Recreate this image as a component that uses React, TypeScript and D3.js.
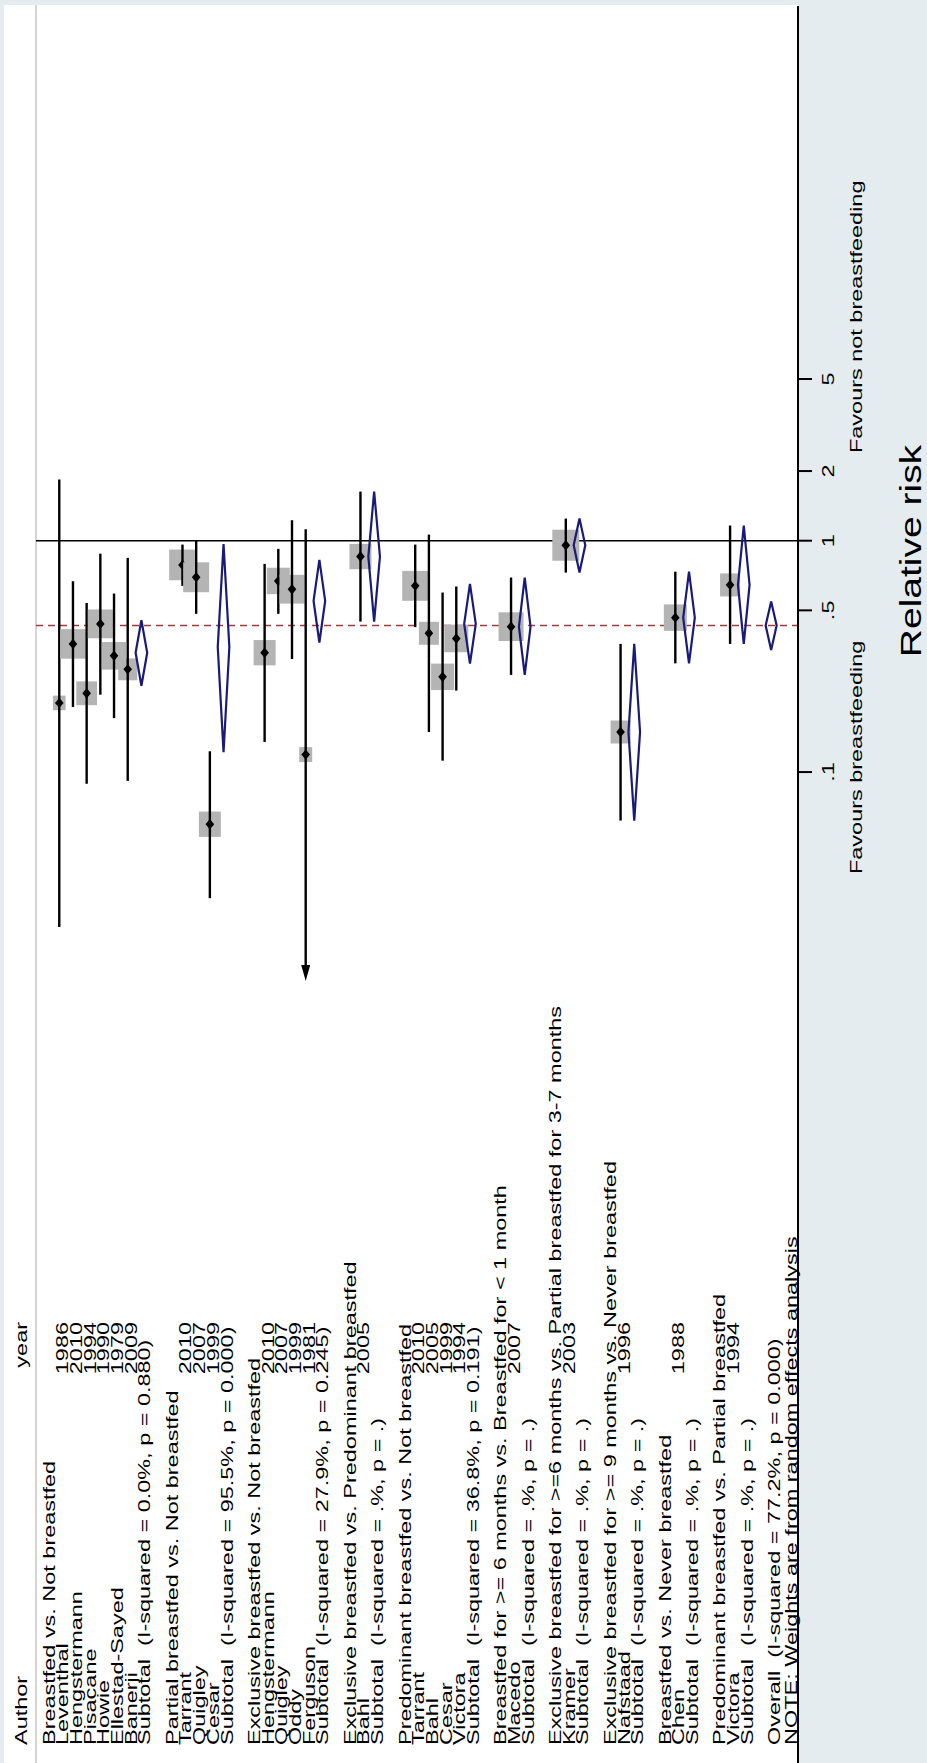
import React from 'react';
import * as d3 from 'd3';

// ---------------- data ----------------
const groupNames = [
  'Breastfed vs. Not breastfed',
  'Partial breastfed vs. Not breastfed',
  'Exclusive breastfed vs. Not breastfed',
  'Exclusive breastfed vs. Predominant breastfed',
  'Predominant breastfed vs. Not breastfed',
  'Breastfed for >= 6 months vs. Breastfed for < 1 month',
  'Exclusive breastfed for >=6 months vs. Partial breastfed for 3-7 months',
  'Exclusive breastfed for >= 9 months vs. Never breastfed',
  'Breastfed vs. Never breastfed',
  'Predominant breastfed vs. Partial breastfed',
];
const groupHet = [
  '(I-squared = 0.0%, p = 0.880)',
  '(I-squared = 95.5%, p = 0.000)',
  '(I-squared = 27.9%, p = 0.245)',
  '(I-squared = .%, p = .)',
  '(I-squared = 36.8%, p = 0.191)',
  '(I-squared = .%, p = .)',
  '(I-squared = .%, p = .)',
  '(I-squared = .%, p = .)',
  '(I-squared = .%, p = .)',
  '(I-squared = .%, p = .)',
];
const studyAuthors = [
  'Leventhal', 'Hengstermann', 'Pisacane', 'Howie', 'Ellestad-Sayed', 'Banerji',
  'Tarrant', 'Quigley', 'Cesar',
  'Hengstermann', 'Quigley', 'Oddy', 'Ferguson',
  'Bahl',
  'Tarrant', 'Bahl', 'Cesar', 'Victora',
  'Macedo',
  'Kramer',
  'Nafstaad',
  'Chen',
  'Victora',
];
const studyYears = [
  '1986', '2010', '1994', '1990', '1979', '2009',
  '2010', '2007', '1999',
  '2010', '2007', '1999', '1981',
  '2005',
  '2010', '2005', '1999', '1994',
  '2007',
  '2003',
  '1996',
  '1988',
  '1994',
];
const studyGroup = [0, 0, 0, 0, 0, 0, 1, 1, 1, 2, 2, 2, 2, 3, 4, 4, 4, 4, 5, 6, 7, 8, 9];
const studyRR = [0.199, 0.358, 0.219, 0.437, 0.318, 0.278, 0.786, 0.695, 0.0595, 0.328, 0.670, 0.617, 0.119, 0.854, 0.638, 0.398, 0.258, 0.378, 0.425, 0.956, 0.149, 0.465, 0.644];
const studyLow = [0.0214, 0.191, 0.089, 0.216, 0.171, 0.0916, 0.638, 0.483, 0.0285, 0.135, 0.483, 0.308, 0.008, 0.447, 0.423, 0.149, 0.112, 0.225, 0.263, 0.728, 0.0617, 0.295, 0.358];
const studyHigh = [1.84, 0.668, 0.538, 0.879, 0.591, 0.843, 0.962, 1.0, 0.123, 0.794, 0.922, 1.226, 1.12, 1.63, 0.962, 1.063, 0.597, 0.634, 0.693, 1.246, 0.358, 0.735, 1.163];
const studyWeight = [1.36, 5.57, 3.61, 5.28, 4.86, 3.05, 6.02, 5.71, 4.09, 4.09, 4.47, 5.28, 1.43, 4.09, 5.71, 3.38, 4.47, 4.86, 5.28, 6.16, 3.38, 4.47, 3.38];
const subtotalRR = [0.328, 0.347, 0.549, 0.854, 0.437, 0.425, 0.956, 0.149, 0.465, 0.644];
const subtotalLow = [0.236, 0.122, 0.363, 0.447, 0.294, 0.263, 0.728, 0.0617, 0.295, 0.358];
const subtotalHigh = [0.453, 0.966, 0.826, 1.63, 0.651, 0.693, 1.246, 0.358, 0.735, 1.163];
const overallRR = [0.430];
const overallLow = [0.337];
const overallHigh = [0.546];
const overallLabel = ['Overall  (I-squared = 77.2%, p = 0.000)'];
const noteLabel = ['NOTE: Weights are from random effects analysis'];
const axisTicks = [0.1, 0.5, 1, 2, 5];
const axisTickLabels = ['.1', '.5', '1', '2', '5'];
const axisTitle = 'Relative risk';
const favourLeft = 'Favours breastfeeding';
const favourRight = 'Favours not breastfeeding';

// ---------------- layout ----------------
const W = 927;
const H = 1763;
const S = 1.44; // glyph stretch along reading direction
const FS = 16.3;
const FONT = '"Liberation Sans", Arial, Helvetica, sans-serif';
const BG = '#e5ecf0';

type Row =
  | { kind: 'header' }
  | { kind: 'blank' }
  | { kind: 'heading'; g: number }
  | { kind: 'study'; i: number }
  | { kind: 'subtotal'; g: number }
  | { kind: 'overall' }
  | { kind: 'note' };

function buildRows(): Row[] {
  const rows: Row[] = [{ kind: 'header' }, { kind: 'blank' }];
  groupNames.forEach((_, g) => {
    rows.push({ kind: 'heading', g });
    studyGroup.forEach((sg, i) => {
      if (sg === g) rows.push({ kind: 'study', i });
    });
    rows.push({ kind: 'subtotal', g });
    rows.push({ kind: 'blank' });
  });
  rows.push({ kind: 'overall' });
  rows.push({ kind: 'note' });
  return rows;
}

function VText(props: {
  x: number; y: number; anchor?: string; size?: number; stretch?: number; children: React.ReactNode; fill?: string;
}) {
  const { x, y, anchor = 'start', size = FS, stretch = S, children, fill = '#000' } = props;
  return (
    <text
      transform={`translate(${x},${y}) scale(1,${stretch}) rotate(-90)`}
      textAnchor={anchor}
      fontSize={size}
      fill={fill}
      style={{ whiteSpace: 'pre' }}
    >
      {children}
    </text>
  );
}

export default function App() {
  const rows = buildRows();
  const x = d3.scaleLinear().domain([0, rows.length - 1]).range([18.2, 18.2 + (rows.length - 1) * 13.69]);
  const y = d3.scaleLog().domain([1 / 80, 80]).range([981, 100.4]);
  const boxSize = d3.scaleSqrt().domain([0, 1]).range([0, 10.88]);
  const [yMin] = y.domain();

  const plotLeft = 36;
  const axisX = 798;
  const labelStart = 1745;
  const yearEnd = 1322;
  const baseOff = 9;

  const diamond = (cx: number, v: number, lo: number, hi: number, hw: number) =>
    `M${cx - hw},${y(v)} L${cx},${y(hi)} L${cx + hw},${y(v)} L${cx},${y(lo)} Z`;

  return (
    <svg
      width={W}
      height={H}
      style={{ position: 'absolute', left: 0, top: 0, fontFamily: FONT }}
      xmlns="http://www.w3.org/2000/svg"
    >
      <rect x={0} y={0} width={W} height={H} fill={BG} />
      <rect x={4} y={5} width={axisX - 4} height={H - 5} fill="#fff" />
      <line x1={plotLeft} x2={plotLeft} y1={5} y2={H} stroke="#d4d4d4" strokeWidth={2} />

      {/* reference lines */}
      <line x1={plotLeft} x2={axisX} y1={y(1)} y2={y(1)} stroke="#000" strokeWidth={1.6} />
      <line
        x1={plotLeft}
        x2={axisX}
        y1={y(overallRR[0])}
        y2={y(overallRR[0])}
        stroke="#a03c3c"
        strokeWidth={1.5}
        strokeDasharray="7 5"
      />

      {/* studies */}
      {rows.map((r, k) => {
        if (r.kind !== 'study') return null;
        const i = r.i;
        const cx = x(k);
        const bw = boxSize(studyWeight[i]);
        const bh = bw * 1.15;
        const cy = y(studyRR[i]);
        const clipped = studyLow[i] < yMin;
        const lowY = y(Math.max(studyLow[i], yMin));
        return (
          <g key={`s${k}`}>
            <rect x={cx - bw / 2} y={cy - bh / 2} width={bw} height={bh} fill="#b4b4b4" />
            <line x1={cx} x2={cx} y1={y(studyHigh[i])} y2={clipped ? lowY - 10 : lowY} stroke="#000" strokeWidth={2.4} />
            {clipped && (
              <path d={`M${cx - 4.5},${lowY - 16} L${cx + 4.5},${lowY - 16} L${cx},${lowY} Z`} fill="#000" />
            )}
            <path d={`M${cx - 4.3},${cy} L${cx},${cy - 5.2} L${cx + 4.3},${cy} L${cx},${cy + 5.2} Z`} fill="#000" />
          </g>
        );
      })}

      {/* subtotals and overall diamonds */}
      {rows.map((r, k) => {
        if (r.kind === 'subtotal') {
          const g = r.g;
          return (
            <path
              key={`d${k}`}
              d={diamond(x(k), subtotalRR[g], subtotalLow[g], subtotalHigh[g], 5.8)}
              fill="none"
              stroke="#1a1a7a"
              strokeWidth={2.2}
            />
          );
        }
        if (r.kind === 'overall') {
          return (
            <path
              key={`d${k}`}
              d={diamond(x(k), overallRR[0], overallLow[0], overallHigh[0], 5.5)}
              fill="none"
              stroke="#1a1a7a"
              strokeWidth={2.2}
            />
          );
        }
        return null;
      })}

      {/* labels */}
      {rows.map((r, k) => {
        const bx = x(k) + baseOff;
        if (r.kind === 'header')
          return (
            <g key={`t${k}`}>
              <VText x={bx} y={labelStart}>Author</VText>
              <VText x={bx} y={yearEnd} anchor="end">year</VText>
            </g>
          );
        if (r.kind === 'heading')
          return <VText key={`t${k}`} x={bx} y={labelStart}>{groupNames[r.g]}</VText>;
        if (r.kind === 'study')
          return (
            <g key={`t${k}`}>
              <VText x={bx} y={labelStart}>{studyAuthors[r.i]}</VText>
              <VText x={bx} y={yearEnd} anchor="end">{studyYears[r.i]}</VText>
            </g>
          );
        if (r.kind === 'subtotal')
          return <VText key={`t${k}`} x={bx} y={labelStart}>{`Subtotal  ${groupHet[r.g]}`}</VText>;
        if (r.kind === 'overall')
          return <VText key={`t${k}`} x={bx} y={labelStart}>{overallLabel[0]}</VText>;
        if (r.kind === 'note')
          return <VText key={`t${k}`} x={bx + 3} y={labelStart}>{noteLabel[0]}</VText>;
        return null;
      })}

      {/* axis */}
      <line x1={axisX} x2={axisX} y1={6} y2={H} stroke="#000" strokeWidth={2} />
      {axisTicks.map((t, i) => (
        <g key={`tk${i}`}>
          <line x1={axisX} x2={axisX + 14} y1={y(t)} y2={y(t)} stroke="#000" strokeWidth={2} />
          <VText x={axisX + 36} y={y(t)} anchor="middle">{axisTickLabels[i]}</VText>
        </g>
      ))}
      <VText x={862} y={874}>{favourLeft}</VText>
      <VText x={862} y={453}>{favourRight}</VText>
      <VText x={921} y={551} anchor="middle" size={30} stretch={1.3}>{axisTitle}</VText>
    </svg>
  );
}
